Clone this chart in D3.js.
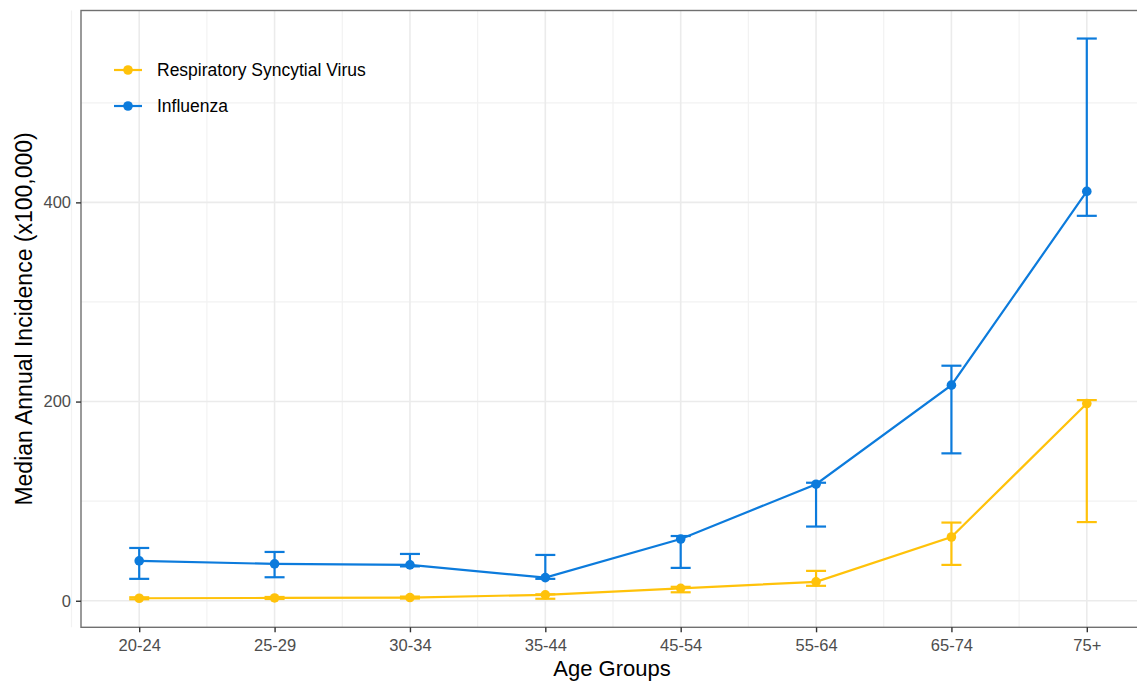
<!DOCTYPE html>
<html><head><meta charset="utf-8">
<script src="https://cdn.jsdelivr.net/npm/d3@7"></script>
<style>body{margin:0;background:#fff;} svg{display:block;font-family:"Liberation Sans",Arial,sans-serif;}</style>
</head><body>
<svg id="c" width="1137" height="682"></svg>
<script>
const categories = ["20-24","25-29","30-34","35-44","45-54","55-64","65-74","75+"];
const rsvMedian = [2.5, 2.8, 3.2, 6, 12.5, 19, 64, 198];
const rsvLower  = [1.5, 1.8, 2.2, 2, 8.5, 15, 36, 79];
const rsvUpper  = [3.5, 3.8, 4.2, 6.5, 14, 30, 78.5, 201.5];
const fluMedian = [40, 37, 36, 23.2, 62, 117, 216.5, 411];
const fluLower  = [22, 23.6, 34.5, 22, 33, 74.5, 148, 386.5];
const fluUpper  = [53, 49, 47, 46, 65, 118.5, 236, 564.5];
const yTicks = [0, 200, 400];
const yMinor = [100, 300, 500];
const seriesNames = ["Respiratory Syncytial Virus", "Influenza"];
const seriesColors = ["#FFC20A", "#0C7BDC"];

const series = [
  {name: seriesNames[0], color: seriesColors[0], med: rsvMedian, lo: rsvLower, hi: rsvUpper},
  {name: seriesNames[1], color: seriesColors[1], med: fluMedian, lo: fluLower, hi: fluUpper}
];

const svg = d3.select("#c");
const L = 81, R = 1145, T = 10.5, B = 627.3;
const x = d3.scalePoint().domain(categories).range([L, R]).padding(0.43);
const dmin = 1.5, dmax = 564.5, span = dmax - dmin;
const y = d3.scaleLinear().domain([dmin - 0.05*span, dmax + 0.05*span]).range([B, T]);

const g = svg.append("g");
g.append("rect").attr("x", L).attr("y", T).attr("width", R-L).attr("height", B-T).attr("fill", "#fff");
// minor grid
const step = x.step();
const xMinor = categories.slice(0, -1).map((c,i) => x(c) + step/2);
xMinor.unshift(x(categories[0]) - step/2);
g.selectAll(".vmin").data(xMinor).join("line")
  .attr("x1", d=>d).attr("x2", d=>d).attr("y1", T).attr("y2", B)
  .attr("stroke", "#F2F2F2").attr("stroke-width", 1.2);
g.selectAll(".hmin").data(yMinor).join("line")
  .attr("x1", L).attr("x2", R).attr("y1", d=>y(d)).attr("y2", d=>y(d))
  .attr("stroke", "#F2F2F2").attr("stroke-width", 1.2);
// major grid
g.selectAll(".vmaj").data(categories).join("line")
  .attr("x1", d=>x(d)).attr("x2", d=>x(d)).attr("y1", T).attr("y2", B)
  .attr("stroke", "#EBEBEB").attr("stroke-width", 1.6);
g.selectAll(".hmaj").data(yTicks).join("line")
  .attr("x1", L).attr("x2", R).attr("y1", d=>y(d)).attr("y2", d=>y(d))
  .attr("stroke", "#EBEBEB").attr("stroke-width", 1.6);

// series
series.forEach((s, si) => {
  const pts = categories.map((c,i) => ({c, m: s.med[i], lo: s.lo[i], hi: s.hi[i]}));
  const eg = g.append("g");
  eg.selectAll("line.ev").data(pts).join("line").attr("class", "ev")
    .attr("x1", d=>x(d.c)).attr("x2", d=>x(d.c)).attr("y1", d=>y(d.lo)).attr("y2", d=>y(d.hi))
    .attr("stroke", s.color).attr("stroke-width", 2.2);
  ["lo","hi"].forEach(k => {
    eg.selectAll("line.cap"+k).data(pts).join("line").attr("class", "cap"+k)
      .attr("x1", d=>x(d.c)-10).attr("x2", d=>x(d.c)+10).attr("y1", d=>y(d[k])).attr("y2", d=>y(d[k]))
      .attr("stroke", s.color).attr("stroke-width", 2.2);
  });
  g.append("path").datum(pts)
    .attr("d", d3.line().x(d=>x(d.c)).y(d=>y(d.m)))
    .attr("fill", "none").attr("stroke", s.color).attr("stroke-width", 2.2);
  g.append("g").selectAll("circle").data(pts).join("circle")
    .attr("cx", d=>x(d.c)).attr("cy", d=>y(d.m)).attr("r", 4.8).attr("fill", s.color);
});

// panel border
g.append("rect").attr("x", L).attr("y", T).attr("width", R-L).attr("height", B-T)
  .attr("fill", "none").attr("stroke", "#707070").attr("stroke-width", 1.4);

// axes
const xa = svg.append("g").attr("transform", `translate(0,${B})`)
  .call(d3.axisBottom(x).tickSize(5).tickPadding(0));
const ya = svg.append("g").attr("transform", `translate(${L},0)`)
  .call(d3.axisLeft(y).tickValues(yTicks).tickSize(5).tickPadding(5));
[xa, ya].forEach(a => {
  a.select(".domain").remove();
  a.selectAll(".tick line").attr("stroke", "#333").attr("stroke-width", 1.4);
  a.selectAll(".tick text").attr("fill", "#4D4D4D").attr("font-size", 16.5)
    .attr("font-family", "Liberation Sans, Arial, sans-serif");
});
xa.selectAll(".tick text").attr("dy", null).attr("y", 24);

// titles
svg.append("text").attr("x", (L+R)/2 - 1).attr("y", 676).attr("text-anchor", "middle")
  .attr("font-size", 22).attr("fill", "#000").text("Age Groups");
svg.append("text").attr("transform", `translate(32,${(T+B)/2}) rotate(-90)`).attr("text-anchor", "middle")
  .attr("font-size", 23).attr("fill", "#000").text("Median Annual Incidence (x100,000)");

// legend
const lg = svg.append("g");
series.forEach((s, i) => {
  const yy = 70 + i*36;
  lg.append("line").attr("x1", 114).attr("x2", 142).attr("y1", yy).attr("y2", yy)
    .attr("stroke", s.color).attr("stroke-width", 2.2);
  lg.append("circle").attr("cx", 128).attr("cy", yy).attr("r", 4.8).attr("fill", s.color);
  lg.append("text").attr("x", 157).attr("y", yy).attr("dy", "0.35em")
    .attr("font-size", 17.5).attr("fill", "#000").text(s.name);
});
</script>
</body></html>
